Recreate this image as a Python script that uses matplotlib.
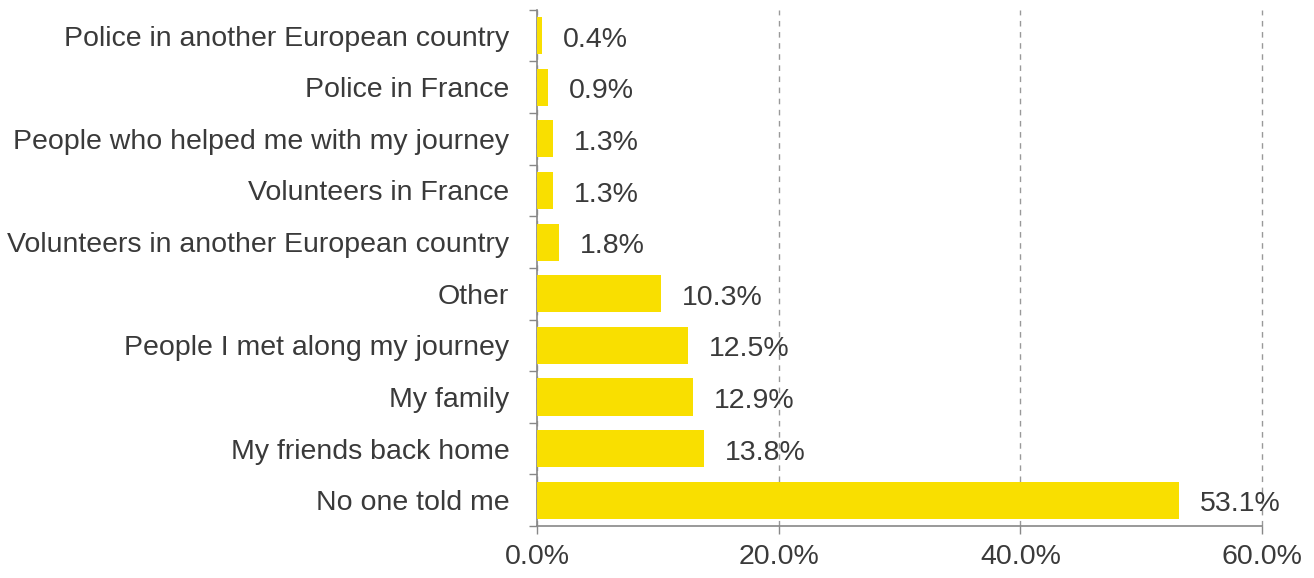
import matplotlib.pyplot as plt
import matplotlib.transforms as mtransforms
import numpy as np

categories = [
    "No one told me",
    "My friends back home",
    "My family",
    "People I met along my journey",
    "Other",
    "Volunteers in another European country",
    "Volunteers in France",
    "People who helped me with my journey",
    "Police in France",
    "Police in another European country",
]
values = [53.1, 13.8, 12.9, 12.5, 10.3, 1.8, 1.3, 1.3, 0.9, 0.4]
x_ticks = [0, 20, 40, 60]

plt.rcParams["font.family"] = ["Liberation Sans", "DejaVu Sans"]
text_color = "#3a3a3a"
fs = 20.5

fig = plt.figure(figsize=(13.14, 5.78), dpi=100)
ax = fig.add_axes([0.4087, 0.09, 0.5517, 0.893])

y = np.arange(len(categories))
ax.barh(y, values, height=0.72, color="#F9DF00", zorder=3)

for yi, v in zip(y, values):
    ax.annotate(f"{v:.1f}%", (v, yi), xytext=(15, -3), textcoords="offset points",
                va="center", ha="left", fontsize=fs, color=text_color)

ax.set_xlim(0, 60)
ax.set_ylim(-0.5, len(categories) - 0.5)
ax.set_xticks(x_ticks)
ax.set_xticklabels([f"{t:.1f}%" for t in x_ticks], fontsize=fs, color=text_color)
ax.set_yticks(y)
ax.set_yticklabels(categories, fontsize=fs, color=text_color)
ax.set_yticks(np.arange(-0.5, len(categories)), minor=True)

# nudge category labels down a little so they sit level with the value labels
shift = mtransforms.ScaledTranslation(0, -3 / 72, fig.dpi_scale_trans)
for lbl in ax.get_yticklabels():
    lbl.set_transform(lbl.get_transform() + shift)

ax.tick_params(axis="y", which="major", length=0, pad=20)
ax.tick_params(axis="y", which="minor", length=6, color="#888888", width=1)
ax.tick_params(axis="x", length=6, color="#888888", width=1, pad=7)

ax.grid(axis="x", linestyle=(0, (4, 4)), color="#999999", linewidth=1, zorder=0)
for gl in ax.xaxis.get_gridlines():
    gl.set_clip_on(False)
for side in ("top", "right"):
    ax.spines[side].set_visible(False)
for side in ("left", "bottom"):
    ax.spines[side].set_color("#888888")
    ax.spines[side].set_linewidth(1.2)

fig.savefig("out.png", dpi=100)
plt.close(fig)
